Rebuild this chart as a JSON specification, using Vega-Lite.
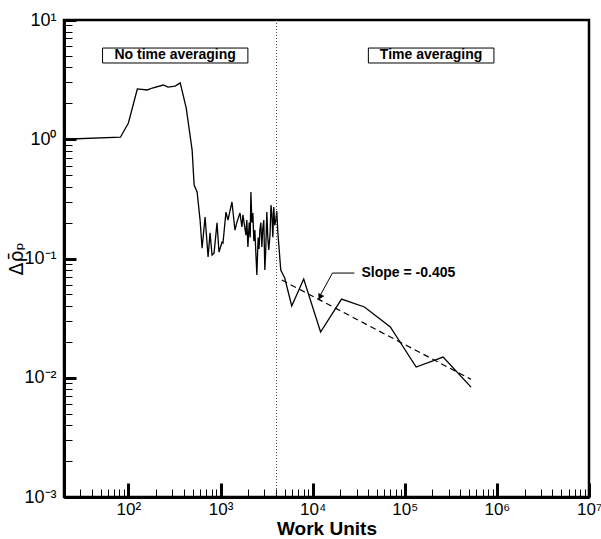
{
  "$schema": "https://vega.github.io/schema/vega-lite/v6.json",
  "width": 525,
  "height": 477,
  "autosize": {"type": "none"},
  "padding": {"left": 64, "top": 20, "right": 12, "bottom": 42},
  "background": "white",
  "config": {
    "view": {"stroke": "black", "strokeWidth": 2.5},
    "axis": {"grid": false, "domainColor": "black", "tickColor": "black", "labelColor": "black", "titleColor": "black", "labelFont": "Liberation Sans", "titleFont": "Liberation Sans"}
  },
  "datasets": {
    "series": [
      {"x": 20, "y": 1.0}, {"x": 82, "y": 1.04}, {"x": 100, "y": 1.37}, {"x": 125, "y": 2.64}, {"x": 160, "y": 2.59},
      {"x": 182, "y": 2.69}, {"x": 239, "y": 2.85}, {"x": 270, "y": 2.74}, {"x": 322, "y": 2.79}, {"x": 365, "y": 2.97},
      {"x": 424, "y": 1.83}, {"x": 492, "y": 0.81}, {"x": 517, "y": 0.413}, {"x": 557, "y": 0.361}, {"x": 600, "y": 0.21},
      {"x": 631, "y": 0.122}, {"x": 680, "y": 0.223}, {"x": 733, "y": 0.103}, {"x": 770, "y": 0.164}, {"x": 809, "y": 0.107},
      {"x": 851, "y": 0.111}, {"x": 916, "y": 0.199}, {"x": 963, "y": 0.113}, {"x": 1038, "y": 0.137}, {"x": 1064, "y": 0.135},
      {"x": 1146, "y": 0.245}, {"x": 1205, "y": 0.21}, {"x": 1331, "y": 0.298}, {"x": 1435, "y": 0.173}, {"x": 1507, "y": 0.202},
      {"x": 1625, "y": 0.241}, {"x": 1708, "y": 0.184}, {"x": 1751, "y": 0.232}, {"x": 1888, "y": 0.157}, {"x": 1930, "y": 0.21},
      {"x": 1983, "y": 0.125}, {"x": 2050, "y": 0.2}, {"x": 2100, "y": 0.15}, {"x": 2137, "y": 0.361}, {"x": 2190, "y": 0.2},
      {"x": 2245, "y": 0.241}, {"x": 2300, "y": 0.14}, {"x": 2360, "y": 0.173}, {"x": 2420, "y": 0.11}, {"x": 2482, "y": 0.0728},
      {"x": 2560, "y": 0.15}, {"x": 2620, "y": 0.12}, {"x": 2673, "y": 0.173}, {"x": 2740, "y": 0.2}, {"x": 2810, "y": 0.125},
      {"x": 2877, "y": 0.18}, {"x": 2950, "y": 0.21}, {"x": 3027, "y": 0.08}, {"x": 3100, "y": 0.12}, {"x": 3184, "y": 0.245},
      {"x": 3260, "y": 0.15}, {"x": 3342, "y": 0.118}, {"x": 3450, "y": 0.16}, {"x": 3530, "y": 0.28}, {"x": 3606, "y": 0.241},
      {"x": 3698, "y": 0.151}, {"x": 3785, "y": 0.27}, {"x": 3880, "y": 0.19}, {"x": 3981, "y": 0.21}, {"x": 4080, "y": 0.25},
      {"x": 4188, "y": 0.167}, {"x": 4508, "y": 0.08}, {"x": 4980, "y": 0.0686}, {"x": 5930, "y": 0.04}, {"x": 8000, "y": 0.0673},
      {"x": 12200, "y": 0.0242}, {"x": 20600, "y": 0.0457}, {"x": 36500, "y": 0.0392}, {"x": 69700, "y": 0.0267},
      {"x": 133000, "y": 0.0123}, {"x": 261000, "y": 0.0149}, {"x": 524000, "y": 0.00835}
    ],
    "fit": [{"x": 4625, "y": 0.066}, {"x": 524000, "y": 0.0097}]
  },
  "layer": [
    {
      "data": {"name": "series"},
      "mark": {"type": "line", "color": "black", "strokeWidth": 1.3, "clip": true},
      "encoding": {
        "x": {
          "field": "x", "type": "quantitative",
          "scale": {"type": "log", "domain": [20, 10000000], "nice": false},
          "axis": {
            "title": "Work Units", "titleFontSize": 19, "titleFontWeight": "bold", "titlePadding": -4,
            "values": [30,40,50,60,70,80,90,100,200,300,400,500,600,700,800,900,1000,2000,3000,4000,5000,6000,7000,8000,9000,10000,20000,30000,40000,50000,60000,70000,80000,90000,100000,200000,300000,400000,500000,600000,700000,800000,900000,1000000,2000000,3000000,4000000,5000000,6000000,7000000,8000000,9000000,10000000],
            "labelExpr": "datum.value == 100 ? '10²' : datum.value == 1000 ? '10³' : datum.value == 10000 ? '10⁴' : datum.value == 100000 ? '10⁵' : datum.value == 1000000 ? '10⁶' : datum.value == 10000000 ? '10⁷' : ''",
            "labelFontSize": 17, "labelFlush": false, "labelOverlap": false, "labelBound": false, "labelPadding": 18,
            "domainWidth": 3,
            "tickSize": {"condition": {"test": "indexof([100,1000,10000,100000,1000000,10000000], datum.value) >= 0", "value": -14}, "value": -8},
            "tickWidth": {"condition": {"test": "indexof([100,1000,10000,100000,1000000,10000000], datum.value) >= 0", "value": 3}, "value": 1}
          }
        },
        "y": {
          "field": "y", "type": "quantitative",
          "scale": {"type": "log", "domain": [0.001, 10], "nice": false},
          "axis": {
            "title": "Δρ̄ₚ", "titleFont": "DejaVu Sans", "titleFontSize": 19, "titleFontWeight": "normal", "titlePadding": -3,
            "values": [0.001,0.002,0.003,0.004,0.005,0.006,0.007,0.008,0.009,0.01,0.02,0.03,0.04,0.05,0.06,0.07,0.08,0.09,0.1,0.2,0.3,0.4,0.5,0.6,0.7,0.8,0.9,1,2,3,4,5,6,7,8,9,10],
            "labelExpr": "datum.value == 10 ? '10¹' : datum.value == 1 ? '10⁰' : datum.value == 0.1 ? '10⁻¹' : datum.value == 0.01 ? '10⁻²' : datum.value == 0.001 ? '10⁻³' : ''",
            "labelFontSize": 18, "labelFlush": false, "labelOverlap": false, "labelBound": false, "labelPadding": 20,
            "domainWidth": 3,
            "tickSize": {"condition": {"test": "indexof([0.001,0.01,0.1,1,10], datum.value) >= 0", "value": -12}, "value": -8},
            "tickWidth": {"condition": {"test": "indexof([0.001,0.01,0.1,1,10], datum.value) >= 0", "value": 3}, "value": 1}
          }
        }
      }
    },
    {
      "data": {"name": "fit"},
      "mark": {"type": "line", "color": "black", "strokeWidth": 1.2, "strokeDash": [6, 4]},
      "encoding": {
        "x": {"field": "x", "type": "quantitative", "scale": {"type": "log", "domain": [20, 10000000], "nice": false}},
        "y": {"field": "y", "type": "quantitative", "scale": {"type": "log", "domain": [0.001, 10], "nice": false}}
      }
    },
    {
      "data": {"values": [{}]},
      "mark": {"type": "rule", "color": "#444444", "strokeWidth": 1, "strokeDash": [1, 2]},
      "encoding": {
        "x": {"datum": 4050, "type": "quantitative", "scale": {"type": "log", "domain": [20, 10000000], "nice": false}}
      }
    },
    {
      "data": {"values": [{}]},
      "mark": {"type": "rect", "fill": "white", "stroke": "black", "strokeWidth": 1},
      "encoding": {
        "x": {"datum": 52.4, "type": "quantitative", "scale": {"type": "log", "domain": [20, 10000000], "nice": false}},
        "x2": {"datum": 1982},
        "y": {"datum": 5.82, "type": "quantitative", "scale": {"type": "log", "domain": [0.001, 10], "nice": false}},
        "y2": {"datum": 4.36}
      }
    },
    {
      "data": {"values": [{}]},
      "mark": {"type": "rect", "fill": "white", "stroke": "black", "strokeWidth": 1},
      "encoding": {
        "x": {"datum": 40270, "type": "quantitative", "scale": {"type": "log", "domain": [20, 10000000], "nice": false}},
        "x2": {"datum": 929000},
        "y": {"datum": 5.82, "type": "quantitative", "scale": {"type": "log", "domain": [0.001, 10], "nice": false}},
        "y2": {"datum": 4.36}
      }
    },
    {
      "data": {"values": [{}]},
      "mark": {"type": "text", "text": "No time averaging", "font": "Liberation Sans", "fontWeight": "bold", "fontSize": 14, "align": "center", "baseline": "middle", "color": "black"},
      "encoding": {
        "x": {"datum": 322, "type": "quantitative", "scale": {"type": "log", "domain": [20, 10000000], "nice": false}},
        "y": {"datum": 5.04, "type": "quantitative", "scale": {"type": "log", "domain": [0.001, 10], "nice": false}}
      }
    },
    {
      "data": {"values": [{}]},
      "mark": {"type": "text", "text": "Time averaging", "font": "Liberation Sans", "fontWeight": "bold", "fontSize": 14, "align": "center", "baseline": "middle", "color": "black"},
      "encoding": {
        "x": {"datum": 193000, "type": "quantitative", "scale": {"type": "log", "domain": [20, 10000000], "nice": false}},
        "y": {"datum": 5.04, "type": "quantitative", "scale": {"type": "log", "domain": [0.001, 10], "nice": false}}
      }
    },
    {
      "data": {"values": [{}]},
      "mark": {"type": "text", "text": "Slope = -0.405", "font": "Liberation Sans", "fontWeight": "bold", "fontSize": 14, "align": "left", "baseline": "middle", "color": "black"},
      "encoding": {
        "x": {"datum": 33900, "type": "quantitative", "scale": {"type": "log", "domain": [20, 10000000], "nice": false}},
        "y": {"datum": 0.0755, "type": "quantitative", "scale": {"type": "log", "domain": [0.001, 10], "nice": false}}
      }
    },
    {
      "data": {"values": [{}]},
      "mark": {"type": "rule", "color": "black", "strokeWidth": 1},
      "encoding": {
        "x": {"datum": 28400, "type": "quantitative", "scale": {"type": "log", "domain": [20, 10000000], "nice": false}},
        "x2": {"datum": 16400},
        "y": {"datum": 0.0755, "type": "quantitative", "scale": {"type": "log", "domain": [0.001, 10], "nice": false}},
        "y2": {"datum": 0.0755}
      }
    },
    {
      "data": {"values": [{}]},
      "mark": {"type": "rule", "color": "black", "strokeWidth": 1},
      "encoding": {
        "x": {"datum": 16400, "type": "quantitative", "scale": {"type": "log", "domain": [20, 10000000], "nice": false}},
        "x2": {"datum": 11900},
        "y": {"datum": 0.0755, "type": "quantitative", "scale": {"type": "log", "domain": [0.001, 10], "nice": false}},
        "y2": {"datum": 0.048}
      }
    },
    {
      "data": {"values": [{}]},
      "mark": {"type": "point", "shape": "triangle-up", "filled": true, "color": "black", "size": 45, "angle": 207, "opacity": 1},
      "encoding": {
        "x": {"datum": 12000, "type": "quantitative", "scale": {"type": "log", "domain": [20, 10000000], "nice": false}},
        "y": {"datum": 0.0475, "type": "quantitative", "scale": {"type": "log", "domain": [0.001, 10], "nice": false}}
      }
    }
  ]
}
